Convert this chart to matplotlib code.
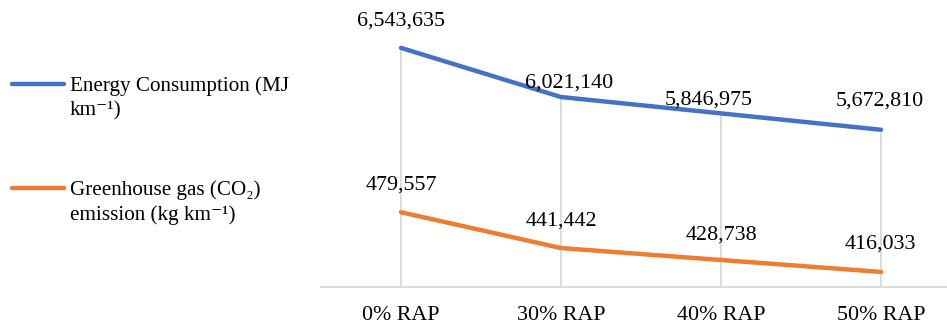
import matplotlib.pyplot as plt

categories = ["0% RAP", "30% RAP", "40% RAP", "50% RAP"]
energy = [6543635, 6021140, 5846975, 5672810]
ghg = [479557, 441442, 428738, 416033]
energy_label = ["Energy Consumption (MJ", "km\u207b\u00b9)"]
ghg_label = ["Greenhouse gas (CO\u2082)", "emission (kg km\u207b\u00b9)"]

# label placement (pixel offsets from each point: dx, dy above)
energy_offsets = [(0, 22), (8, 9), (-12, 9), (-1, 24)]
ghg_offsets = [(0, 23), (0, 22), (0, 20), (-1, 23)]

plt.rcParams['font.family'] = ['Liberation Serif', 'DejaVu Serif']
BLUE = "#4472C4"
ORANGE = "#ED7D31"

W, H = 947, 327
fig = plt.figure(figsize=(W / 100, H / 100), dpi=100)
x0, x1 = 321, 961
ytop, ybot = 5, 287
ax = fig.add_axes([x0 / W, 1 - ybot / H, (x1 - x0) / W, (ybot - ytop) / H])
ax2 = ax.twinx()

xs = list(range(len(categories)))
ax.set_xlim(-0.5, len(categories) - 0.5)
ax.set_ylim(4000000, 7000000)
ax2.set_ylim(400000, 700000)

# drop lines
ax.vlines(xs, 4000000, energy, color="#D9D9D9", lw=1.3, zorder=1)

ax.plot(xs, energy, color=BLUE, lw=3.2, solid_capstyle="round", zorder=3)
ax2.plot(xs, ghg, color=ORANGE, lw=3.2, solid_capstyle="round", zorder=3)

PT = 0.72
for a, vals, offs in ((ax, energy, energy_offsets), (ax2, ghg, ghg_offsets)):
    for x, v, (dx, dy) in zip(xs, vals, offs):
        a.annotate(f"{v:,}", (x, v), xytext=(dx * PT, dy * PT),
                   textcoords="offset points", ha="center", va="baseline",
                   fontsize=15.8, color="#000000", zorder=5)

for a in (ax, ax2):
    for s in a.spines.values():
        s.set_visible(False)
    a.set_yticks([])
ax.spines["bottom"].set_visible(True)
ax.spines["bottom"].set_color("#D9D9D9")
ax.spines["bottom"].set_linewidth(1.3)
ax.set_xticks(xs)
ax.set_xticklabels(categories, fontsize=15.8, color="#000000")
ax.tick_params(axis="x", length=0, pad=14)

# legend
def legend_item(ypix, color, lines):
    fig.add_artist(plt.Line2D([12 / W, 64 / W], [1 - ypix / H, 1 - ypix / H],
                              color=color, lw=3.2, solid_capstyle="round"))
    for i, t in enumerate(lines):
        fig.text(70 / W, 1 - (ypix + 2 + 25 * i) / H, t, fontsize=15.2,
                 va="center", ha="left", color="#000000")

legend_item(84, BLUE, energy_label)
legend_item(188, ORANGE, ghg_label)

fig.savefig("out.png", dpi=100)
